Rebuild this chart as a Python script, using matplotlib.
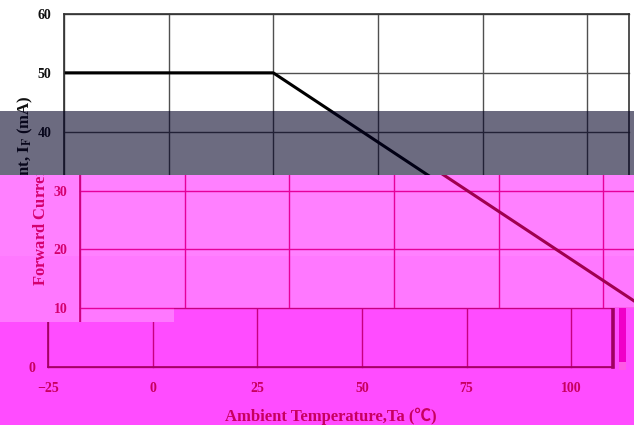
import matplotlib
matplotlib.use('Agg')
import matplotlib.pyplot as plt
from matplotlib.patches import Rectangle
from matplotlib.transforms import Bbox, TransformedBbox

# data
temp = [-25, 25, 110]
current = [50, 50, 10]
x_ticks = [-25, 0, 25, 50, 75, 100]
y_ticks = [0, 10, 20, 30, 40, 50, 60]
x_label = 'Ambient Temperature,Ta (\u2103)'
y_label = r'Forward Current, $\mathbf{I_F}$ (mA)'

plt.rcParams['font.family'] = ['Liberation Serif', 'Noto Sans CJK SC', 'DejaVu Sans']
plt.rcParams['font.weight'] = 'bold'
plt.rcParams['mathtext.fontset'] = 'stix'

W, H = 640, 425
fig = plt.figure(figsize=(6.4, 4.25), dpi=100)


def fx(px):
    return px / W


def fy(py):
    return 1 - py / H


def band(x0, x1, y0, y1, color, z=-5, alpha=1.0):
    r = Rectangle((fx(x0), fy(y1)), fx(x1 - x0), (y1 - y0) / H,
                  transform=fig.transFigure, facecolor=color, edgecolor='none',
                  zorder=z, alpha=alpha)
    fig.add_artist(r)


# coloured bands of the (damaged) picture
band(0, 634, 175, 256, '#ff80ff')
band(0, 634, 256, 308, '#ff78ff')
band(0, 634, 308, 425, '#ff4cff')
band(0, 174, 308, 322, '#ff78ff', z=-4)
band(619, 626, 308, 362, '#f000c8', z=20)
band(619, 626, 362, 370, '#ff5ae6', z=20)

top_style = dict(left=64, text='#111111', grid='#505050', spine='#333333',
                 line='#000000', rspine=1.2)
mid_style = dict(left=80, text='#d4006e', grid='#e6009a', spine='#c8007a',
                 line='#a0004f', rspine=1.2)
low_style = dict(left=48, text='#c8005f', grid='#c8007f', spine='#a00060',
                 line='#90004a', rspine=2.6)

# each piece is the same chart, shifted and tinted: (style, x0, x1, y0, y1)
pieces = [
    (top_style, 0, 634, 0, 175),
    (mid_style, 0, 174, 175, 322),
    (mid_style, 174, 634, 175, 308),
    (low_style, 0, 174, 322, 425),
    (low_style, 174, 634, 308, 425),
]

fig_axes = []
for s, x0, x1, y0, y1 in pieces:
    ax = fig.add_axes([fx(s['left']), fy(367), fx(565), 353 / H])
    ax.set_facecolor('none')
    ax.plot(temp, current, color=s['line'], lw=2.2, solid_capstyle='butt')
    ax.set_xlim(-25, 110)
    ax.set_ylim(0, 60)
    ax.set_xticks(x_ticks)
    ax.set_yticks(y_ticks)
    # only label ticks that fall inside this piece
    ylabs = []
    for v in y_ticks:
        py = 367 - v * 353 / 60
        ylabs.append(str(v) if y0 - 8 <= py <= y1 + 8 else '')
    ax.set_yticklabels(ylabs)
    ax.grid(True, color=s['grid'], lw=1.0)
    ax.set_axisbelow(True)
    for sp in ax.spines.values():
        sp.set_color(s['spine'])
        sp.set_linewidth(1.2)
    ax.spines['right'].set_linewidth(s['rspine'])
    ax.tick_params(length=0, labelsize=10, colors=s['text'])
    ax.tick_params(axis='x', pad=11, labelbottom=y1 > 367)
    ax.tick_params(axis='y', pad=9)
    if y1 > 380:
        ax.set_xlabel(x_label, fontsize=12, fontweight='bold', color=s['text'], labelpad=9)
    if y0 < 290:
        ax.set_ylabel(y_label, fontsize=12, fontweight='bold', color=s['text'], labelpad=2)
    fig_axes.append(ax)

fig.canvas.draw()
for ax, (s, x0, x1, y0, y1) in zip(fig_axes, pieces):
    clip = TransformedBbox(Bbox.from_extents(fx(x0), fy(y1), fx(x1), fy(y0)),
                           fig.transFigure)
    for a in ax.findobj():
        if a is ax:
            continue
        a.set_clip_box(clip)
        a.set_clip_on(True)

# dark strip over the upper part
band(0, 634, 111, 175, (2 / 255, 0, 36 / 255), z=10, alpha=0.58)

fig.savefig('out.png', dpi=100)
